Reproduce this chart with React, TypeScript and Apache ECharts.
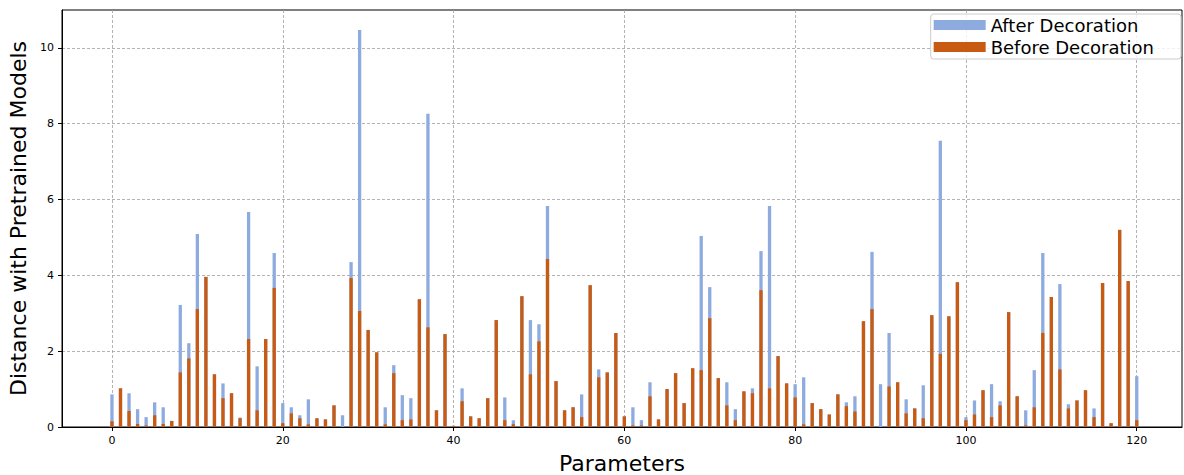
import React, { useEffect, useRef } from 'react';
import * as echarts from 'echarts';

const seriesNames = ['After Decoration', 'Before Decoration'];

const afterDecoration = [
  0.86, 1.02, 0.89, 0.47, 0.26, 0.65, 0.52, 0.16, 3.22, 2.21,
  5.09, 3.96, 1.39, 1.15, 0.89, 0.25, 5.67, 1.60, 2.32, 4.59,
  0.63, 0.52, 0.31, 0.73, 0.23, 0.20, 0.57, 0.31, 4.35, 10.47,
  2.56, 1.97, 0.52, 1.63, 0.84, 0.76, 3.37, 8.26, 0.44, 2.45,
  0.03, 1.02, 0.28, 0.23, 0.76, 2.82, 0.78, 0.18, 3.45, 2.82,
  2.71, 5.83, 1.21, 0.44, 0.52, 0.86, 3.74, 1.52, 1.44, 2.48,
  0.28, 0.52, 0.18, 1.18, 0.20, 1.00, 1.42, 0.63, 1.55, 5.04,
  3.69, 1.29, 1.18, 0.47, 0.94, 1.02, 4.64, 5.83, 1.87, 1.15,
  1.13, 1.31, 0.63, 0.47, 0.33, 0.86, 0.65, 0.81, 2.79, 4.62,
  1.13, 2.48, 1.18, 0.73, 0.49, 1.10, 2.95, 7.55, 2.92, 3.82,
  0.26, 0.70, 0.97, 1.13, 0.68, 3.03, 0.81, 0.44, 1.50, 4.59,
  3.43, 3.77, 0.60, 0.70, 0.97, 0.49, 3.80, 0.10, 5.20, 3.85,
  1.34,
];

const beforeDecoration = [
  0.15, 1.02, 0.42, 0.08, 0.04, 0.31, 0.08, 0.16, 1.44, 1.81,
  3.11, 3.96, 1.39, 0.76, 0.89, 0.23, 2.32, 0.44, 2.32, 3.67,
  0.10, 0.36, 0.23, 0.07, 0.23, 0.20, 0.57, 0.00, 3.93, 3.06,
  2.56, 1.97, 0.07, 1.42, 0.18, 0.20, 3.37, 2.63, 0.44, 2.45,
  0.03, 0.68, 0.28, 0.23, 0.76, 2.82, 0.18, 0.07, 3.45, 1.39,
  2.26, 4.43, 1.21, 0.44, 0.52, 0.26, 3.74, 1.31, 1.44, 2.48,
  0.28, 0.04, 0.04, 0.81, 0.20, 1.00, 1.42, 0.63, 1.55, 1.50,
  2.87, 1.29, 0.57, 0.18, 0.94, 0.89, 3.61, 1.02, 1.87, 1.15,
  0.78, 0.07, 0.63, 0.47, 0.33, 0.86, 0.55, 0.41, 2.79, 3.11,
  0.00, 1.07, 1.18, 0.36, 0.49, 0.23, 2.95, 1.93, 2.92, 3.82,
  0.18, 0.33, 0.97, 0.26, 0.57, 3.03, 0.81, 0.04, 0.52, 2.48,
  3.43, 1.52, 0.49, 0.70, 0.97, 0.26, 3.80, 0.10, 5.20, 3.85,
  0.18,
];

const xTickValues = [0, 20, 40, 60, 80, 100, 120];
const yTickValues = [0, 2, 4, 6, 8, 10];

const FONT = 'DejaVu Sans';
const BLUE = '#8eabe0';
const ORANGE = '#c95a12';

export default function App() {
  const ref = useRef<HTMLDivElement>(null);

  useEffect(() => {
    if (!ref.current) return;
    const chart = echarts.init(ref.current, null, { renderer: 'svg' });
    const toPairs = (arr: number[]) => arr.map((v, i) => [i, v]);

    chart.setOption({
      animation: false,
      backgroundColor: '#ffffff',
      grid: {
        left: 62,
        top: 10,
        right: 2,
        bottom: 48,
        outerBoundsMode: 'none',
        containLabel: false,
        show: true,
        borderColor: '#000',
        borderWidth: 1,
        backgroundColor: 'transparent',
      },
      legend: {
        data: seriesNames,
        orient: 'vertical',
        right: 3,
        top: 14,
        itemWidth: 52,
        itemHeight: 10,
        itemGap: 4,
        padding: [2, 27, 3, 3],
        borderColor: '#cccccc',
        borderWidth: 1,
        borderRadius: 3,
        backgroundColor: 'rgba(255,255,255,0.8)',
        icon: 'rect',
        textStyle: { fontFamily: FONT, fontSize: 18, color: '#000', lineHeight: 14 },
      },
      xAxis: {
        type: 'value',
        min: -5.85,
        max: 125.3,
        splitNumber: 6,
        name: 'Parameters',
        nameLocation: 'middle',
        nameGap: 25,
        nameTextStyle: { fontFamily: FONT, fontSize: 22, color: '#000' },
        axisLine: { show: true, onZero: false, lineStyle: { color: '#000', width: 1 } },
        axisTick: {
          show: true,
          length: 4,
          customValues: xTickValues,
          lineStyle: { color: '#000' },
        },
        axisLabel: {
          customValues: xTickValues,
          margin: 8,
          fontFamily: FONT,
          fontSize: 11,
          color: '#000',
        },
        splitLine: {
          show: true,
          lineStyle: { color: '#a0a0a0', type: [3, 2], width: 0.8 },
        },
      },
      yAxis: {
        type: 'value',
        min: 0,
        max: 11,
        interval: 2,
        name: 'Distance with Pretrained Models',
        nameLocation: 'middle',
        nameGap: 29,
        nameTextStyle: { fontFamily: FONT, fontSize: 22, color: '#000' },
        axisLine: { show: true, onZero: false, lineStyle: { color: '#000', width: 1 } },
        axisTick: {
          show: true,
          length: 4,
          customValues: yTickValues,
          lineStyle: { color: '#000' },
        },
        axisLabel: {
          customValues: yTickValues,
          margin: 8,
          fontFamily: FONT,
          fontSize: 11,
          color: '#000',
        },
        splitLine: {
          show: true,
          lineStyle: { color: '#a0a0a0', type: [3, 2], width: 0.8 },
        },
      },
      series: [
        {
          name: seriesNames[0],
          type: 'bar',
          data: toPairs(afterDecoration),
          barWidth: 3.3,
          barGap: '-100%',
          itemStyle: { color: BLUE },
          z: 2,
        },
        {
          name: seriesNames[1],
          type: 'bar',
          data: toPairs(beforeDecoration),
          barWidth: 3.3,
          barGap: '-100%',
          itemStyle: { color: ORANGE },
          z: 3,
        },
      ],
    });

    return () => chart.dispose();
  }, []);

  return (
    <div
      ref={ref}
      style={{ position: 'fixed', left: 0, top: 0, width: 1184, height: 475 }}
    />
  );
}
